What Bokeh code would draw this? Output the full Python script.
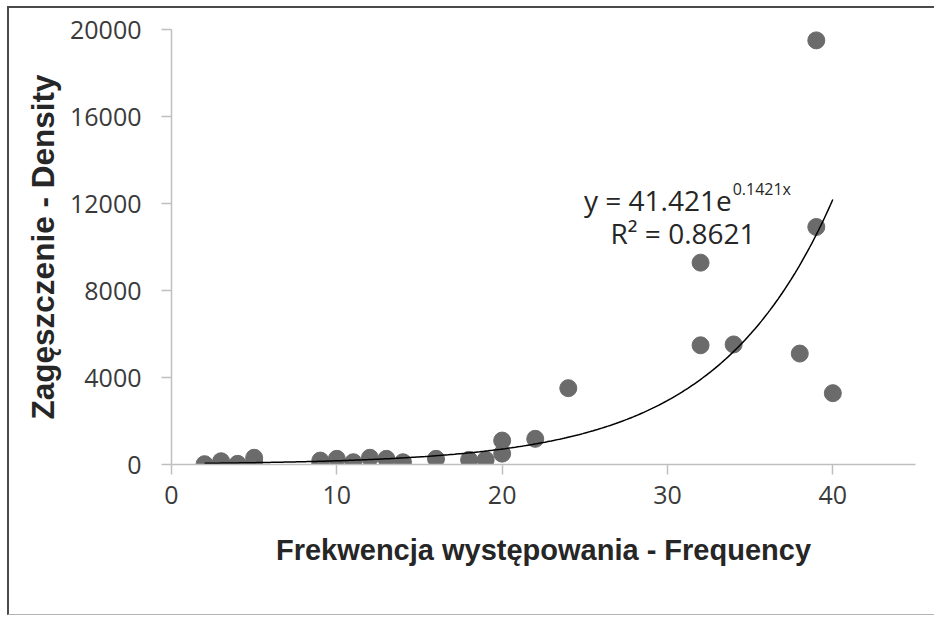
import numpy as np
from bokeh.plotting import figure
from bokeh.models import Range1d, FixedTicker, NumeralTickFormatter, Label, ColumnDataSource
from bokeh.embed import file_html
from bokeh.resources import INLINE

# Observations: frequency of occurrence vs. density
freq = [2, 3, 4, 5, 5, 9, 9, 10, 11, 12, 13, 14, 16, 18, 19,
        20, 20, 22, 24, 32, 32, 34, 38, 39, 39, 40]
density = [15, 150, 30, 310, 105, 180, 30, 260, 105, 310, 260, 105, 260, 215, 215,
           1100, 500, 1180, 3510, 9280, 5480, 5520, 5100, 19500, 10920, 3280]

# Exponential trend fitted to the data: y = a * e^(b x)
trend_a = 41.421
trend_b = 0.1421
trend_r2 = 0.8621
trend_from, trend_to = 2, 40

x_ticks = [0, 10, 20, 30, 40]
y_ticks = [0, 4000, 8000, 12000, 16000, 20000]

GREY_AXIS = "#bfbfbf"
TICK_FONT = "Open Sans"
TITLE_FONT = "Liberation Sans"

p = figure(width=927, height=609,
           x_range=Range1d(0, 45), y_range=Range1d(0, 20000),
           output_backend="svg", toolbar_location=None,
           min_border_left=162, min_border_right=21,
           min_border_top=21, min_border_bottom=153,
           background_fill_color="white", border_fill_color="white")
p.styles = {"margin-left": "7px", "margin-top": "6px",
            "border-left": "2px solid #4a4a4a",
            "border-top": "2px solid #4a4a4a",
            "border-bottom": "1px solid #b4b4b4"}

p.xgrid.visible = False
p.ygrid.visible = False
p.outline_line_color = None

for ax in (p.xaxis[0], p.yaxis[0]):
    ax.axis_line_color = GREY_AXIS
    ax.axis_line_width = 1.5
    ax.major_tick_line_color = GREY_AXIS
    ax.major_tick_line_width = 1.5
    ax.major_tick_out = 10
    ax.major_tick_in = 0
    ax.minor_tick_line_color = None
    ax.major_label_text_font = TICK_FONT
    ax.major_label_text_font_size = "25px"
    ax.major_label_text_color = "#3a3a3a"
    ax.axis_label_text_font = TITLE_FONT
    ax.axis_label_text_font_style = "bold"
    ax.axis_label_text_color = "#262626"

p.xaxis.ticker = FixedTicker(ticks=x_ticks)
p.yaxis.ticker = FixedTicker(ticks=y_ticks)
p.yaxis.formatter = NumeralTickFormatter(format="0")
p.xaxis.major_label_standoff = 11
p.yaxis.major_label_standoff = 20

p.xaxis.axis_label = "Frekwencja występowania - Frequency"
p.xaxis.axis_label_text_font_size = "29px"
p.xaxis.axis_label_standoff = 27
p.yaxis.axis_label = "Zagęszczenie - Density"
p.yaxis.axis_label_text_font_size = "31.5px"
p.yaxis.axis_label_standoff = 6

src = ColumnDataSource(dict(x=freq, y=density))
p.scatter("x", "y", source=src, size=17, marker="circle",
          fill_color="#6b6b6b", line_color="#6b6b6b")

tx = np.linspace(trend_from, trend_to, 300)
ty = trend_a * np.exp(trend_b * tx)
p.line(tx, ty, line_color="black", line_width=1.5)

# Trend equation and R²
eq_x, eq_y = 33.88, 12146
p.add_layout(Label(x=eq_x, y=eq_y, text=f"y = {trend_a}e",
                   text_align="right", text_baseline="alphabetic",
                   text_font=TICK_FONT, text_font_size="28px", text_color="#262626"))
p.add_layout(Label(x=eq_x, y=12653, x_offset=1, text=f"{trend_b}x",
                   text_align="left", text_baseline="alphabetic",
                   text_font=TICK_FONT, text_font_size="16px", text_color="#262626"))
p.add_layout(Label(x=30.94, y=10628, text=f"R² = {trend_r2}",
                   text_align="center", text_baseline="alphabetic",
                   text_font=TICK_FONT, text_font_size="28px", text_color="#262626"))

open("out.html", "w").write(file_html(p, INLINE))
